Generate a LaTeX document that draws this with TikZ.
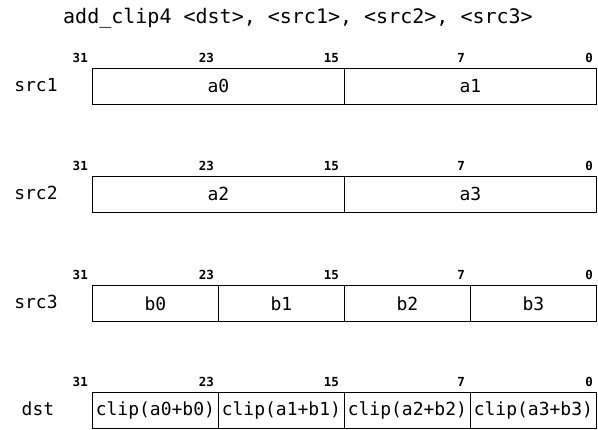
\documentclass[tikz,border=0pt]{standalone}
\usepackage{fontspec}
\setmonofont{DejaVu Sans Mono}
\begin{document}
\begin{tikzpicture}[x=1pt,y=-1pt,
  cell/.style={draw, line width=0.8pt, minimum height=36pt, inner sep=0pt,
    anchor=north west, font=\fontsize{18}{18}\selectfont\ttfamily},
  half/.style={cell, minimum width=252pt},
  quarter/.style={cell, minimum width=126pt},
  bitno/.style={font=\fontsize{12.5}{12.5}\selectfont\ttfamily\bfseries,
    anchor=base east, inner sep=0pt},
  regname/.style={font=\fontsize{18}{18}\selectfont\ttfamily, anchor=base, inner sep=0pt},
]
\useasboundingbox (0,0) rectangle (598,430);

% instruction syntax
\node[font=\fontsize{20}{20}\selectfont\ttfamily] (title) at (298,18)
  {add\_clip4 <dst>, <src1>, <src2>, <src3>};

% src1: two halves
\node[regname] (n1) at (36,92) {src1};
\node[half] (s1a) at (92,68) {a0};
\node[half] (s1b) at (344,68) {a1};
\node[bitno] (s1b31) at (88,63) {31};
\node[bitno] (s1b23) at (214,63) {23};
\node[bitno] (s1b15) at (339,63) {15};
\node[bitno] (s1b7) at (465,63) {7};
\node[bitno] (s1b0) at (593,63) {0};

% src2: two halves
\node[regname] (n2) at (36,200) {src2};
\node[half] (s2a) at (92,176) {a2};
\node[half] (s2b) at (344,176) {a3};
\node[bitno] (s2b31) at (88,171) {31};
\node[bitno] (s2b23) at (214,171) {23};
\node[bitno] (s2b15) at (339,171) {15};
\node[bitno] (s2b7) at (465,171) {7};
\node[bitno] (s2b0) at (593,171) {0};

% src3: four quarters
\node[regname] (n3) at (36,309) {src3};
\node[quarter] (s3a) at (92,285) {b0};
\node[quarter] (s3b) at (218,285) {b1};
\node[quarter] (s3c) at (344,285) {b2};
\node[quarter] (s3d) at (470,285) {b3};
\node[bitno] (s3b31) at (88,280) {31};
\node[bitno] (s3b23) at (214,280) {23};
\node[bitno] (s3b15) at (339,280) {15};
\node[bitno] (s3b7) at (465,280) {7};
\node[bitno] (s3b0) at (593,280) {0};

% dst: four clipped sums
\node[regname] (n4) at (38,416) {dst};
\node[quarter] (da) at (92,392) {clip(a0+b0)};
\node[quarter] (db) at (218,392) {clip(a1+b1)};
\node[quarter] (dc) at (344,392) {clip(a2+b2)};
\node[quarter] (dd) at (470,392) {clip(a3+b3)};
\node[bitno] (db31) at (88,387) {31};
\node[bitno] (db23) at (214,387) {23};
\node[bitno] (db15) at (339,387) {15};
\node[bitno] (db7) at (465,387) {7};
\node[bitno] (db0) at (593,387) {0};
\end{tikzpicture}
\end{document}
